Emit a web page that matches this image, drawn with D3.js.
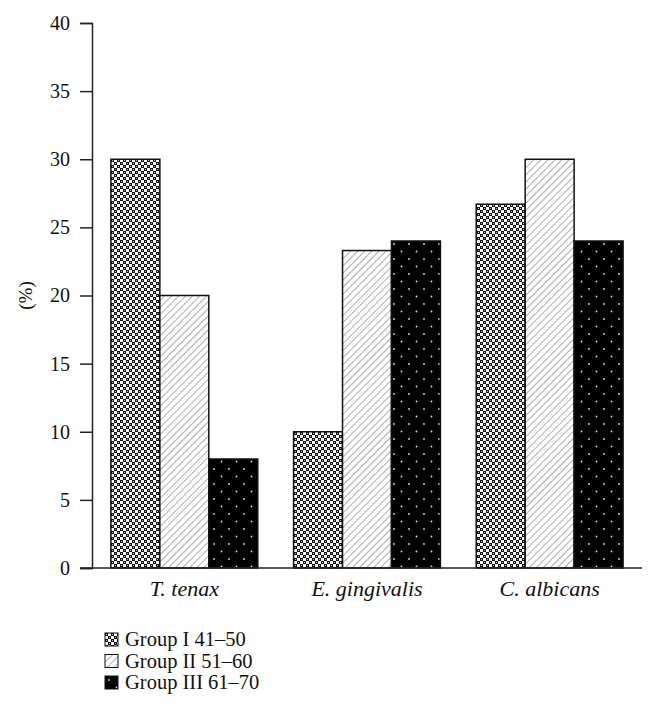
<!DOCTYPE html>
<html>
<head>
<meta charset="utf-8">
<script src="https://cdn.jsdelivr.net/npm/d3@7"></script>
<style>
  body { margin: 0; background: #fff; }
  text { font-family: "Liberation Serif", "DejaVu Serif", serif; fill: #111; }
</style>
</head>
<body>
<div id="chart"></div>
<script>
// data
var categories = ["T. tenax", "E. gingivalis", "C. albicans"];
var groups = ["Group I 41\u201350", "Group II 51\u201360", "Group III 61\u201370"];
var groupI = [30, 10, 26.7];
var groupII = [20, 23.3, 30];
var groupIII = [8, 24, 24];
var yTicks = [0, 5, 10, 15, 20, 25, 30, 35, 40];

var series = [groupI, groupII, groupIII];

var width = 656, height = 724;
var plotLeft = 92, plotRight = 642, plotTop = 23, plotBottom = 568;

var svg = d3.select("#chart").append("svg")
  .attr("width", width)
  .attr("height", height);

// patterns
var defs = svg.append("defs");

// checkered dots
var p1 = defs.append("pattern")
  .attr("id", "pat0").attr("patternUnits", "userSpaceOnUse")
  .attr("width", 6).attr("height", 6);
p1.append("rect").attr("width", 6).attr("height", 6).attr("fill", "#fff");
[[0, 0], [3, 3]].forEach(function (p) {
  p1.append("rect").attr("x", p[0]).attr("y", p[1]).attr("width", 3).attr("height", 3).attr("fill", "#111");
  p1.append("rect").attr("x", p[0] + 1).attr("y", p[1] + 1).attr("width", 1).attr("height", 1).attr("fill", "#bbb");
});

// diagonal hatch
var p2 = defs.append("pattern")
  .attr("id", "pat1").attr("patternUnits", "userSpaceOnUse")
  .attr("width", 5).attr("height", 5)
  .attr("patternTransform", "rotate(45)");
p2.append("rect").attr("width", 5).attr("height", 5).attr("fill", "#fff");
p2.append("line").attr("x1", 0).attr("y1", 0).attr("x2", 0).attr("y2", 5)
  .attr("stroke", "#777").attr("stroke-width", 1.2);

// black with white dots
var p3 = defs.append("pattern")
  .attr("id", "pat2").attr("patternUnits", "userSpaceOnUse")
  .attr("width", 15).attr("height", 15);
p3.append("rect").attr("width", 15).attr("height", 15).attr("fill", "#000");
p3.append("circle").attr("cx", 4).attr("cy", 4).attr("r", 0.9).attr("fill", "#ddd");
p3.append("circle").attr("cx", 11.5).attr("cy", 11.5).attr("r", 0.9).attr("fill", "#ddd");

// scales
var x0 = d3.scaleBand().domain(categories).range([plotLeft, plotRight])
  .paddingInner(0.196).paddingOuter(0.1035);
var x1 = d3.scaleBand().domain(d3.range(groups.length)).range([0, x0.bandwidth()]);
var y = d3.scaleLinear().domain([0, 40]).range([plotBottom, plotTop]);

// bars
categories.forEach(function (c, ci) {
  svg.append("g")
    .selectAll("rect")
    .data(series.map(function (s, si) { return { si: si, v: s[ci] }; }))
    .enter()
    .append("rect")
    .attr("x", function (d) { return x0(c) + x1(d.si); })
    .attr("y", function (d) { return y(d.v); })
    .attr("width", x1.bandwidth())
    .attr("height", function (d) { return plotBottom - y(d.v); })
    .attr("fill", function (d) { return "url(#pat" + d.si + ")"; })
    .attr("stroke", "#111")
    .attr("stroke-width", 1.5);
});

// y axis
var yAxis = d3.axisLeft(y).tickValues(yTicks).tickSize(12).tickPadding(10);
var gy = svg.append("g")
  .attr("transform", "translate(" + plotLeft + ",0)")
  .call(yAxis);
gy.select(".domain").attr("stroke", "#222").attr("stroke-width", 1.5);
gy.selectAll(".tick line").attr("stroke", "#222").attr("stroke-width", 1.5);
gy.selectAll(".tick text").attr("font-size", 20);

// x axis
var xAxis = d3.axisBottom(x0).tickSize(0).tickPadding(12);
var gx = svg.append("g")
  .attr("transform", "translate(0," + plotBottom + ")")
  .call(xAxis);
gx.select(".domain").attr("stroke", "#222").attr("stroke-width", 1.5)
  .attr("d", "M" + (plotLeft - 12) + ",0H" + plotRight);
gx.selectAll(".tick text").attr("font-size", 22).attr("font-style", "italic");

// y label
svg.append("text")
  .attr("transform", "translate(32," + ((plotTop + plotBottom) / 2) + ") rotate(-90)")
  .attr("text-anchor", "middle")
  .attr("font-size", 19)
  .text("(%)");

// legend
var legend = svg.append("g").attr("transform", "translate(105,633)");
var items = legend.selectAll("g").data(groups).enter().append("g")
  .attr("transform", function (d, i) { return "translate(0," + (i * 21.5) + ")"; });
items.append("rect")
  .attr("width", 13).attr("height", 13)
  .attr("fill", function (d, i) { return "url(#pat" + i + ")"; })
  .attr("stroke", "#111").attr("stroke-width", 1);
items.append("text")
  .attr("x", 20).attr("y", 13)
  .attr("font-size", 20.5)
  .text(function (d) { return d; });
</script>
</body>
</html>
